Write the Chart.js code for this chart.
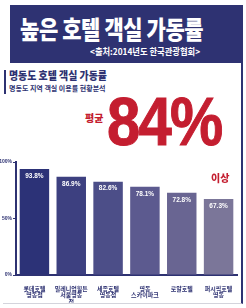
<!DOCTYPE html>
<html>
<head>
<meta charset="utf-8">
<script src="https://cdn.jsdelivr.net/npm/chart.js@4"></script>
<style>
  html, body { margin: 0; padding: 0; background: #fff; }
  body { width: 246px; height: 308px; position: relative; overflow: hidden; font-family: "Noto Sans CJK KR", "Noto Sans", sans-serif; }
  .banner { position: absolute; left: 10px; top: 5px; width: 233px; height: 58px; background: #2e3272; }
  .banner h1 { position: absolute; left: 10px; top: 5px; margin: 0; color: #fff; font-size: 25px; font-weight: 900; white-space: nowrap; transform: scaleX(0.84); transform-origin: left top; letter-spacing: -0.5px; }
  .banner .src { position: absolute; left: 80px; top: 40px; color: #fff; font-size: 9px; font-weight: 700; white-space: nowrap; transform: scaleX(0.92); transform-origin: left top; }
  .box { position: absolute; left: 3px; top: 63px; width: 238px; height: 240px; border-right: 2px solid #2e3272; border-bottom: 1px solid #d4d4dc; }
  .accent { position: absolute; left: 4px; top: 70px; width: 2px; height: 24px; background: #2e3272; }
  .h2 { position: absolute; left: 9px; top: 67px; color: #2e3272; font-size: 11px; font-weight: 900; white-space: nowrap; transform: scaleX(0.9); transform-origin: left top; }
  .h3 { position: absolute; left: 9px; top: 83px; color: #2e3272; font-size: 7px; font-weight: 700; white-space: nowrap; }
  .avg { position: absolute; left: 85px; top: 110px; color: #c41e30; font-size: 10px; font-weight: 900; }
  .big { position: absolute; left: 107px; top: 82px; color: #c41e30; font-size: 68px; font-weight: 700; font-family: "Liberation Sans", Arial, sans-serif; letter-spacing: -2px; white-space: nowrap; transform: scaleX(0.88); transform-origin: left top; -webkit-text-stroke: 1px #c41e30; }
  .over { position: absolute; left: 211px; top: 170px; color: #c41e30; font-size: 10px; font-weight: 900; }
  #wrap { position: absolute; left: 0; top: 155px; width: 240px; height: 150px; }
</style>
</head>
<body>
<div class="banner">
  <h1>높은 호텔 객실 가동률</h1>
  <div class="src">&lt;출처:2014년도 한국관광협회&gt;</div>
</div>
<div class="box"></div>
<div class="accent"></div>
<div class="h2">명동도 호텔 객실 가동률</div>
<div class="h3">명동도 지역 객실 이용률 현황분석</div>
<div class="avg">평균</div>
<div class="big">84%</div>
<div id="wrap"><canvas id="chart"></canvas></div>
<div class="over">이상</div>
<script>
// 카테고리와 값
const hotels = [
    ['롯데호텔', '명동점'],
    ['밀레니엄힐튼', '서울명동', '점'],
    ['세종호텔', '명동점'],
    ['명동', '스카이파크'],
    ['로얄호텔'],
    ['퍼시픽호텔', '명동']
];
const rates = [93.8, 86.9, 82.6, 78.1, 72.8, 67.3];
const yTicks = [0, 50, 100];

const navy = '#2e3272';
const barColors = ['#2c3277', '#3d4080', '#4c4e88', '#5c5a8f', '#696592', '#7b7699'];

// 막대 위에 흰색 값 표시
const valueLabels = {
    id: 'valueLabels',
    afterDatasetsDraw(chart) {
        const ctx = chart.ctx;
        const meta = chart.getDatasetMeta(0);
        ctx.save();
        ctx.fillStyle = '#fff';
        ctx.font = 'bold 6.5px "Liberation Sans", sans-serif';
        ctx.textAlign = 'center';
        ctx.textBaseline = 'middle';
        meta.data.forEach((bar, i) => {
            ctx.fillText(rates[i].toFixed(1) + '%', bar.x, bar.y + 7);
        });
        ctx.restore();
    }
};

new Chart(document.getElementById('chart').getContext('2d'), {
    type: 'bar',
    data: {
        labels: hotels,
        datasets: [{
            data: rates,
            backgroundColor: barColors,
            barPercentage: 0.8,
            categoryPercentage: 1
        }]
    },
    options: {
        responsive: true,
        maintainAspectRatio: false,
        animation: false,
        layout: { padding: { top: 7, right: 3, bottom: 2, left: 0 } },
        plugins: { legend: { display: false }, tooltip: { enabled: false } },
        scales: {
            x: {
                grid: { display: false },
                border: { color: navy, width: 2 },
                afterFit: (s) => { s.height = 28; },
                ticks: {
                    color: navy, padding: 2, maxRotation: 0, autoSkip: false,
                    font: { size: 6, weight: 'bold', family: '"Noto Sans CJK KR"', lineHeight: 1.1 }
                }
            },
            y: {
                min: 0, max: 100,
                afterFit: (s) => { s.width = 16; },
                afterBuildTicks: (s) => { s.ticks = yTicks.map(v => ({ value: v })); },
                grid: { drawOnChartArea: false, color: navy, tickLength: 3, tickWidth: 1 },
                border: { color: navy, width: 2 },
                ticks: {
                    color: navy, padding: 1,
                    font: { size: 5, weight: 'bold', family: '"Liberation Sans"' },
                    callback: (v) => v + '%'
                }
            }
        }
    },
    plugins: [valueLabels]
});
</script>
</body>
</html>
